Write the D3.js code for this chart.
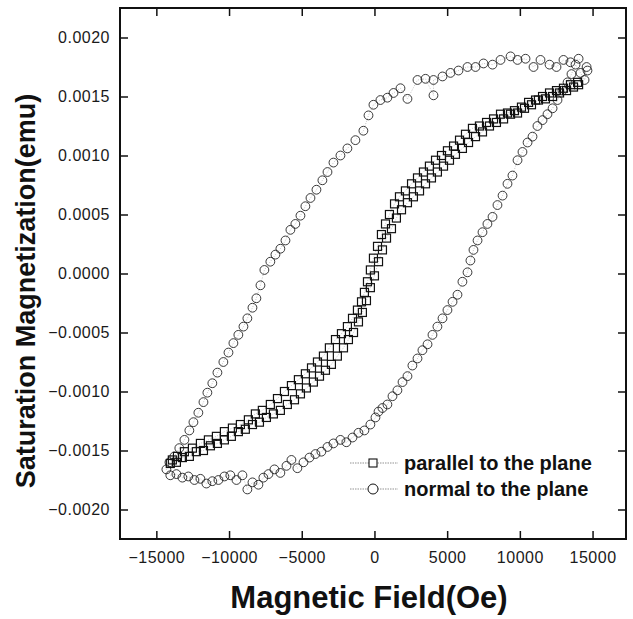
<!DOCTYPE html>
<html>
<head>
<meta charset="utf-8">
<script src="https://cdn.jsdelivr.net/npm/d3@7"></script>
<style>
  body { margin: 0; background: #fff; }
  svg { font-family: "Liberation Sans", Arial, sans-serif; }
</style>
</head>
<body>
<div id="chart"></div>
<script>
// field (Oe), magnetization (emu)
var normalDown = [
  [14590, 0.00175], [14040, 0.00182], [13480, 0.00179], [13000, 0.00181], [12520, 0.00175],
  [12040, 0.00177], [11420, 0.00181], [10940, 0.00175], [10390, 0.00182], [9840, 0.00181],
  [9360, 0.00184], [8670, 0.00181], [8120, 0.00177], [7500, 0.00178], [6950, 0.00175],
  [6400, 0.00175], [5780, 0.00172], [5230, 0.00170], [4680, 0.00167], [4060, 0.00164],
  [4060, 0.00151], [3510, 0.00165], [2960, 0.00164], [2270, 0.00148], [1790, 0.00157],
  [1310, 0.00153], [890, 0.00149], [410, 0.00147], [-70, 0.00143], [-410, 0.00134],
  [-760, 0.00121], [-1310, 0.00113], [-1860, 0.00106], [-2340, 0.00100], [-2820, 0.00094],
  [-3230, 0.00086], [-3580, 0.00079], [-3990, 0.00071], [-4400, 0.00064], [-4750, 0.00057],
  [-5090, 0.00049], [-5440, 0.00042], [-5780, 0.00037], [-6120, 0.00028], [-6470, 0.00021],
  [-6810, 0.00016], [-7160, 0.00010], [-7570, 0.00003], [-7840, -0.00010], [-8120, -0.00021],
  [-8390, -0.00029], [-8740, -0.00038], [-9010, -0.00045], [-9360, -0.00052], [-9700, -0.00059],
  [-10040, -0.00067], [-10390, -0.00075], [-10800, -0.00084], [-11150, -0.00093], [-11490, -0.00101],
  [-11760, -0.00109], [-12110, -0.00118], [-12450, -0.00126], [-12730, -0.00133], [-13070, -0.00141],
  [-13420, -0.00148], [-13760, -0.00155], [-14100, -0.00160], [-14310, -0.00166]
];
var normalUp = [
  [-14040, -0.00171], [-13620, -0.00170], [-13210, -0.00173], [-12800, -0.00172], [-12380, -0.00175],
  [-11970, -0.00174], [-11560, -0.00178], [-11150, -0.00176], [-10730, -0.00175], [-10320, -0.00172],
  [-9910, -0.00171], [-9490, -0.00175], [-9080, -0.00171], [-8740, -0.00183], [-8390, -0.00177],
  [-7980, -0.00179], [-7640, -0.00173], [-7290, -0.00170], [-6880, -0.00166], [-6470, -0.00169],
  [-6050, -0.00163], [-5710, -0.00158], [-5300, -0.00165], [-4880, -0.00160], [-4470, -0.00156],
  [-4060, -0.00153], [-3650, -0.00151], [-3230, -0.00147], [-2820, -0.00144], [-2340, -0.00141],
  [-1930, -0.00143], [-1510, -0.00139], [-1100, -0.00135], [-690, -0.00133], [-280, -0.00128],
  [70, -0.00122], [280, -0.00117], [550, -0.00114], [890, -0.00111], [1240, -0.00104],
  [1580, -0.00099], [1930, -0.00092], [2270, -0.00087], [2610, -0.00078], [2960, -0.00072],
  [3300, -0.00065], [3650, -0.00060], [3990, -0.00052], [4330, -0.00045], [4680, -0.00038],
  [5020, -0.00031], [5370, -0.00024], [5710, -0.00018], [6050, -0.00007], [6400, 0.00001],
  [6600, 0.00011], [6810, 0.00020], [7090, 0.00028], [7430, 0.00035], [7770, 0.00042],
  [8120, 0.00048], [8460, 0.00058], [8810, 0.00066], [9150, 0.00076], [9490, 0.00083],
  [9840, 0.00096], [10180, 0.00103], [10530, 0.00111], [10870, 0.00116], [11210, 0.00125],
  [11560, 0.00130], [11900, 0.00135], [12250, 0.00140], [12590, 0.00147], [12930, 0.00155],
  [13280, 0.00162], [13550, 0.00169], [13830, 0.00177], [14170, 0.00170], [14450, 0.00164],
  [14650, 0.00172]
];
var parallelDown = [
  [13970, 0.00162], [13480, 0.00160], [13000, 0.00157], [12520, 0.00155], [12040, 0.00153],
  [11560, 0.00150], [11080, 0.00147], [10600, 0.00145], [10110, 0.00141], [9630, 0.00138],
  [9150, 0.00136], [8670, 0.00135], [8190, 0.00131], [7710, 0.00128], [7220, 0.00125],
  [6740, 0.00123], [6260, 0.00118], [5850, 0.00113], [5440, 0.00108], [5020, 0.00104],
  [4610, 0.00100], [4200, 0.00096], [3780, 0.00091], [3370, 0.00086], [2960, 0.00081],
  [2550, 0.00076], [2130, 0.00070], [1720, 0.00065], [1380, 0.00059], [1030, 0.00050],
  [760, 0.00042], [480, 0.00033], [210, 0.00023], [-70, 0.00013], [-280, 0.00003],
  [-480, -0.00007], [-690, -0.00016], [-890, -0.00024], [-1170, -0.00031], [-1510, -0.00038],
  [-1860, -0.00045], [-2270, -0.00051], [-2680, -0.00056], [-3100, -0.00063], [-3510, -0.00070],
  [-3920, -0.00075], [-4330, -0.00080], [-4750, -0.00085], [-5230, -0.00090], [-5710, -0.00095],
  [-6190, -0.00100], [-6670, -0.00106], [-7160, -0.00111], [-7710, -0.00116], [-8190, -0.00119],
  [-8670, -0.00124], [-9220, -0.00128], [-9770, -0.00131], [-10320, -0.00134], [-10870, -0.00138],
  [-11420, -0.00141], [-11970, -0.00144], [-12520, -0.00148], [-13070, -0.00151], [-13550, -0.00155],
  [-13900, -0.00158]
];
var parallelUp = [
  [-14040, -0.00161], [-13620, -0.00160], [-13210, -0.00156], [-12730, -0.00155], [-12250, -0.00151],
  [-11760, -0.00150], [-11280, -0.00146], [-10800, -0.00144], [-10320, -0.00141], [-9840, -0.00138],
  [-9360, -0.00134], [-8880, -0.00132], [-8390, -0.00128], [-7910, -0.00126], [-7430, -0.00122],
  [-6950, -0.00119], [-6470, -0.00116], [-5990, -0.00111], [-5500, -0.00107], [-5090, -0.00102],
  [-4680, -0.00097], [-4200, -0.00092], [-3780, -0.00087], [-3370, -0.00082], [-2960, -0.00077],
  [-2550, -0.00070], [-2130, -0.00063], [-1790, -0.00056], [-1440, -0.00050], [-1100, -0.00041],
  [-830, -0.00033], [-550, -0.00023], [-280, -0.00012], [0, -0.00002], [280, 0.00010],
  [550, 0.00020], [830, 0.00030], [1170, 0.00038], [1510, 0.00047], [1860, 0.00054],
  [2270, 0.00060], [2680, 0.00065], [3100, 0.00070], [3510, 0.00076], [3920, 0.00081],
  [4330, 0.00086], [4750, 0.00091], [5160, 0.00096], [5570, 0.00101], [6050, 0.00106],
  [6470, 0.00111], [6950, 0.00116], [7430, 0.00120], [7910, 0.00125], [8390, 0.00128],
  [8880, 0.00131], [9360, 0.00135], [9840, 0.00136], [10320, 0.00140], [10800, 0.00143],
  [11280, 0.00147], [11760, 0.00148], [12250, 0.00150], [12730, 0.00153], [13210, 0.00155],
  [13690, 0.00158], [14040, 0.00160]
];

var xTicks = [-15000, -10000, -5000, 0, 5000, 10000, 15000];
var yTicks = [-0.0020, -0.0015, -0.0010, -0.0005, 0.0000, 0.0005, 0.0010, 0.0015, 0.0020];
var legendLabels = ["parallel to the plane", "normal to the plane"];

var parallel = parallelDown.concat(parallelUp);
var normal = normalDown.concat(normalUp);

var W = 633, H = 619;
var margin = {top: 8, right: 7, bottom: 80, left: 120};
var w = W - margin.left - margin.right,
    h = H - margin.top - margin.bottom;

var svg = d3.select('#chart').append('svg')
  .attr('width', W)
  .attr('height', H);

var g = svg.append('g')
  .attr('transform', 'translate(' + margin.left + ',' + margin.top + ')');

var x = d3.scaleLinear().domain([-17500, 17300]).range([0, w]);
var y = d3.scaleLinear().domain([-0.00225, 0.00225]).range([h, 0]);

var fmtY = d3.format('.4f');

// axes, ticks pointing inward
g.append('g')
  .attr('transform', 'translate(0,' + h + ')')
  .call(d3.axisBottom(x).tickValues(xTicks).tickSizeInner(-8).tickSizeOuter(0).tickPadding(13).tickFormat(d3.format('d')));
g.append('g')
  .call(d3.axisLeft(y).tickValues(yTicks).tickSizeInner(-8).tickSizeOuter(0).tickPadding(10).tickFormat(fmtY));
g.append('g')
  .call(d3.axisTop(x).tickValues(xTicks).tickSizeInner(-8).tickSizeOuter(0).tickFormat(''));
g.append('g')
  .attr('transform', 'translate(' + w + ',0)')
  .call(d3.axisRight(y).tickValues(yTicks).tickSizeInner(-8).tickSizeOuter(0).tickFormat(''));

g.selectAll('.domain').remove();
g.selectAll('.tick line').attr('stroke', '#111').attr('stroke-width', 1.5);
g.selectAll('.tick text')
  .style('font-size', '16px')
  .style('letter-spacing', '0.5px')
  .attr('fill', '#1a1a1a');

g.append('rect')
  .attr('width', w)
  .attr('height', h)
  .attr('fill', 'none')
  .attr('stroke', '#111')
  .attr('stroke-width', 2);

// faint connecting lines
var line = d3.line()
  .x(function(d) { return x(d[0]); })
  .y(function(d) { return y(d[1]); });

[parallel, normal].forEach(function(s) {
  g.append('path')
    .datum(s)
    .attr('d', line)
    .attr('fill', 'none')
    .attr('stroke', '#999')
    .attr('stroke-width', 0.6)
    .attr('stroke-dasharray', '1,1.5');
});

g.selectAll('.nrm')
  .data(normal)
  .enter().append('circle')
  .attr('class', 'nrm')
  .attr('cx', function(d) { return x(d[0]); })
  .attr('cy', function(d) { return y(d[1]); })
  .attr('r', 4.4)
  .attr('fill', 'none')
  .attr('stroke', '#222')
  .attr('stroke-width', 0.9);

var sq = 8;
g.selectAll('.par')
  .data(parallel)
  .enter().append('rect')
  .attr('class', 'par')
  .attr('x', function(d) { return x(d[0]) - sq / 2; })
  .attr('y', function(d) { return y(d[1]) - sq / 2; })
  .attr('width', sq)
  .attr('height', sq)
  .attr('fill', 'none')
  .attr('stroke', '#111')
  .attr('stroke-width', 1.2);

// legend
var legend = svg.append('g')
  .attr('transform', 'translate(350,463)');

legendLabels.forEach(function(lbl, i) {
  var row = legend.append('g').attr('transform', 'translate(0,' + (i * 26) + ')');
  row.append('line')
    .attr('x1', 0).attr('x2', 48)
    .attr('stroke', '#777')
    .attr('stroke-width', 0.8)
    .attr('stroke-dasharray', '1.5,1');
  if (i === 0) {
    row.append('rect')
      .attr('x', 23 - sq / 2).attr('y', -sq / 2)
      .attr('width', sq).attr('height', sq)
      .attr('fill', '#fff').attr('stroke', '#111').attr('stroke-width', 1.1);
  } else {
    row.append('circle')
      .attr('cx', 23).attr('r', 5)
      .attr('fill', '#fff').attr('stroke', '#111').attr('stroke-width', 1);
  }
  row.append('text')
    .attr('x', 54)
    .attr('dy', '0.35em')
    .style('font-size', '20px')
    .style('font-weight', 'bold')
    .attr('fill', '#111')
    .text(lbl);
});

// axis titles
svg.append('text')
  .attr('transform', 'translate(35,291) rotate(-90)')
  .attr('text-anchor', 'middle')
  .style('font-size', '27px')
  .style('font-weight', 'bold')
  .attr('fill', '#111')
  .text('Saturation Magnetization(emu)');

svg.append('text')
  .attr('x', 369)
  .attr('y', 608)
  .attr('text-anchor', 'middle')
  .style('font-size', '31px')
  .style('font-weight', 'bold')
  .attr('fill', '#111')
  .text('Magnetic Field(Oe)');
</script>
</body>
</html>
